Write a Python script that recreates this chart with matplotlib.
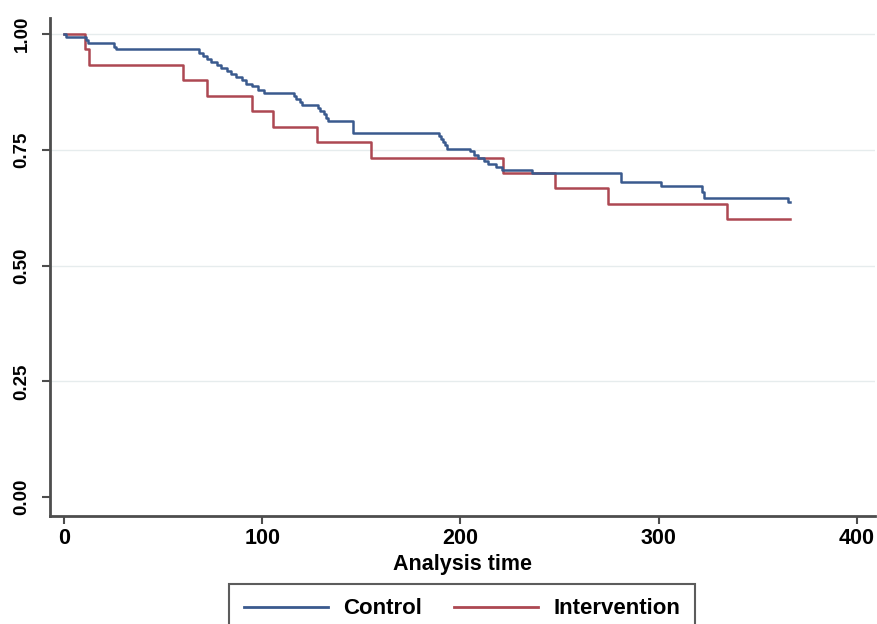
import matplotlib
matplotlib.use("Agg")
import matplotlib.pyplot as plt

# Kaplan-Meier estimates (time, survival)
control_time = [0, 1, 11, 12, 25, 26,
                68, 70, 72, 74, 77, 79, 82, 84, 87, 90, 92, 95, 98, 101,
                116, 117, 119, 120, 128, 129, 131, 132, 133, 146,
                189, 190, 191, 192, 193, 205, 207, 209, 212, 214, 218, 221,
                236, 281, 301, 322, 323, 365, 366]
control_surv = [1.0, 0.993, 0.987, 0.980, 0.973, 0.967,
                0.960, 0.953, 0.947, 0.940, 0.933, 0.927, 0.920, 0.913, 0.907,
                0.900, 0.893, 0.887, 0.880, 0.873,
                0.867, 0.860, 0.853, 0.847, 0.840, 0.833, 0.827, 0.820, 0.813, 0.787,
                0.780, 0.773, 0.767, 0.760, 0.753, 0.747, 0.740, 0.733, 0.727, 0.720,
                0.713, 0.707,
                0.700, 0.680, 0.673, 0.660, 0.647, 0.638, 0.638]

interv_time = [0, 10.6, 12.8, 60.2, 72, 94.7, 105.6, 127.5, 154.8,
               221.6, 247.7, 274.6, 334.3, 366]
interv_surv = [1.0, 0.967, 0.933, 0.900, 0.867, 0.833, 0.800, 0.767, 0.733,
               0.700, 0.667, 0.633, 0.600, 0.600]

x_ticks = [0, 100, 200, 300, 400]
y_ticks = [0.00, 0.25, 0.50, 0.75, 1.00]
y_tick_labels = ["0.00", "0.25", "0.50", "0.75", "1.00"]

plt.rcParams["font.family"] = ["Liberation Sans", "DejaVu Sans"]
plt.rcParams["font.weight"] = "bold"

fig = plt.figure(figsize=(8.78, 6.24), dpi=100)
ax = fig.add_axes([50 / 878, 1 - 516 / 624, 825 / 878, 498 / 624])

ax.step(control_time, control_surv, where="post", color="#3a5a8e", lw=1.8,
        label="Control", zorder=3)
ax.step(interv_time, interv_surv, where="post", color="#ad4852", lw=1.8,
        label="Intervention", zorder=2)

ax.set_xlim(-7.06, 409.1)
ax.set_ylim(-0.041, 1.035)
ax.set_xticks(x_ticks)
ax.set_yticks(y_ticks)
ax.set_yticklabels(y_tick_labels, rotation=90, va="center")
for t in ax.get_yticklabels():
    t.set_fontsize(13.5)
for t in ax.get_xticklabels():
    t.set_fontsize(15.5)

for v in y_ticks[1:]:
    ax.axhline(v, color="#e6eced", lw=1.0, zorder=1)

for s in ["top", "right"]:
    ax.spines[s].set_visible(False)
for s in ["left", "bottom"]:
    ax.spines[s].set_color("#4d4d4d")
    ax.spines[s].set_linewidth(2.0)
ax.tick_params(axis="both", direction="out", length=6, width=1.5, color="#4d4d4d")
ax.tick_params(axis="y", pad=8)
ax.tick_params(axis="x", pad=3)

ax.set_xlabel("Analysis time", fontsize=15.5, fontweight="bold", labelpad=3)

# legend box runs off the bottom edge, as in the original export
leg = fig.legend(loc="upper center", bbox_to_anchor=(462 / 878, 1 - 584 / 624),
                 ncol=2, fontsize=16, frameon=True, fancybox=False,
                 handlelength=3.8, handletextpad=0.7, columnspacing=1.4,
                 borderpad=0.65, borderaxespad=0)
leg.get_frame().set_edgecolor("#333333")
leg.get_frame().set_linewidth(1.5)
for line in leg.get_lines():
    line.set_linewidth(2.0)

plt.savefig("out.png", dpi=100)
